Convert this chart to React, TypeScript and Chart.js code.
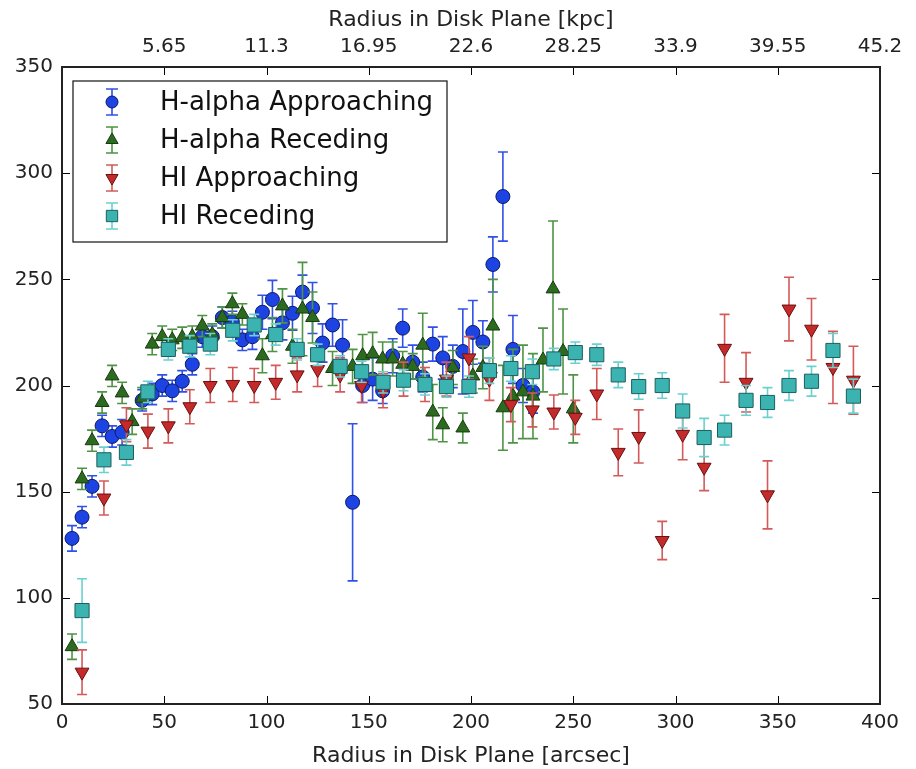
import React, { useEffect, useRef } from 'react';
import { Chart, registerables } from 'chart.js';

Chart.register(...registerables);

// ---- data (arcsec, km/s, error) ----
const haApproachX = [4.9, 9.8, 14.7, 19.6, 24.5, 29.4, 39.2, 44.1, 49, 53.9, 58.8, 63.7, 68.6, 73.5, 78.4, 83.3, 88.2, 93.1, 98, 102.9, 107.8, 112.7, 117.6, 122.5, 127.4, 132.3, 137.2, 142.1, 147, 151.9, 156.8, 161.7, 166.6, 171.5, 176.4, 181.3, 186.2, 191.1, 196, 200.9, 205.8, 210.7, 215.6, 220.5, 225.4, 230.3];
const haApproachY = [128, 138, 152.5, 181, 176, 178, 193, 196, 200, 197.5, 202, 210, 223, 223, 232, 230, 221.5, 223, 234.5, 240.5, 229.5, 234, 244, 236.5, 220, 228.5, 219, 145, 200, 203, 197.5, 214, 227, 211, 204, 219.5, 213, 209, 216, 225, 220.5, 257, 289, 217, 200, 197];
const haApproachErr = [6, 5, 5, 5, 5, 6, 5, 5, 5, 5, 5, 5, 5, 5, 5, 5, 5, 6, 8, 9, 8, 8, 8, 12, 9, 10, 12, 37, 8, 10, 6, 8, 9, 8, 7, 8, 10, 10, 20, 15, 10, 13, 21, 16, 8, 10];

const haRecedeX = [4.9, 9.8, 14.7, 19.6, 24.5, 29.4, 34.3, 39.2, 44.1, 49, 53.9, 58.8, 63.7, 68.6, 73.5, 78.4, 83.3, 88.2, 98, 102.9, 107.8, 112.7, 117.6, 122.5, 132.3, 142.1, 147, 151.9, 156.8, 161.7, 166.6, 171.5, 176.4, 181.3, 186.2, 191.1, 196, 200.9, 205.8, 210.7, 215.6, 220.5, 225.4, 230.3, 235.2, 240.1, 245, 250];
const haRecedeY = [77, 156, 174, 192, 204.5, 196.5, 183, 194, 219.5, 223, 221.5, 222.5, 223, 228, 224, 232, 238.5, 233.5, 214, 224, 237.5, 218.5, 236, 232, 208, 209, 214, 215, 212.5, 212.5, 210, 209, 219, 187.5, 181.5, 208.5, 180, 204.5, 208.5, 228, 189.5, 195, 197, 195, 212, 245.5, 216, 189];
const haRecedeErr = [6, 5, 5, 5, 5, 5, 6, 5, 5, 5, 5, 5, 5, 5, 5, 5, 5, 5, 8, 8, 8, 8, 22, 12, 8, 8, 10, 10, 8, 8, 6, 6, 15, 13, 8, 8, 7, 8, 10, 22, 20, 22, 22, 20, 15, 32, 20, 16];

const hiApproachX = [9.8, 20.5, 31.5, 42, 52, 62.5, 72.5, 83.5, 94, 104.5, 115, 125, 136, 146.5, 157, 167, 177.5, 188, 199, 209, 219.5, 230, 240.5, 251, 261.5, 272, 282, 293.5, 303.5, 314, 324, 334.5, 345, 355.5, 366.5, 377, 387];
const hiApproachY = [65, 147, 181.5, 178.5, 181, 190, 200, 200.5, 200, 201.5, 205, 207.5, 205, 200, 197.5, 203, 200.5, 203, 213, 203, 191, 188.5, 187.5, 185, 196, 168.5, 176, 127, 177, 161.5, 217.5, 201.5, 148.5, 236, 226.5, 208.5, 202.5];
const hiApproachErr = [10.5, 8, 8, 8, 8, 8, 8, 8, 8, 8, 8, 8, 8, 8, 8, 8, 8, 8, 10, 10, 8, 8, 8, 8, 12, 11, 12.5, 9, 12, 11, 16, 14, 16, 15, 14.5, 17, 16];

const hiRecedeX = [9.8, 20.5, 31.5, 42, 52, 62.5, 72.5, 83.5, 94, 104.5, 115, 125, 136, 146.5, 157, 167, 177.5, 188, 199, 209, 219.5, 230, 240.5, 251, 261.5, 272, 282, 293.5, 303.5, 314, 324, 334.5, 345, 355.5, 366.5, 377, 387];
const hiRecedeY = [94, 165, 168.5, 197, 217, 218.5, 219.5, 226, 228.5, 224, 217, 214.5, 209, 206.5, 201.5, 202.5, 200.5, 199.5, 199.5, 207, 208, 206.5, 212.5, 215.5, 214.5, 205, 199.5, 200, 188, 175.5, 179, 193, 192, 200, 202, 216.5, 195];
const hiRecedeErr = [15, 6, 6, 5, 5, 5, 5, 5, 5, 5, 5, 5, 5, 5, 5, 5, 5, 5, 5, 6, 6, 6, 5, 5, 5, 6, 6, 6, 8, 9, 7, 7, 7, 7, 7, 8, 8];

const seriesNames = ['H-alpha Approaching', 'H-alpha Receding', 'HI Approaching', 'HI Receding'];
const kpcTickLabels = ['', '5.65', '11.3', '16.95', '22.6', '28.25', '33.9', '39.55', '45.2'];

const FONT = '"DejaVu Sans", sans-serif';

const styles = [
  { fill: '#1d43e3', edge: '#0b1a66', err: '#3050e8', shape: 'circle', radius: 7, legendRadius: 6, rot: 0 },
  { fill: '#2c6b1f', edge: '#173b10', err: '#4e9444', shape: 'triangle', radius: 8, legendRadius: 7, rot: 0 },
  { fill: '#c42a2a', edge: '#6a1010', err: '#d45a5a', shape: 'triangle', radius: 8, legendRadius: 7, rot: 180 },
  { fill: '#3bb3b0', edge: '#1c5e5e', err: '#6cd0d0', shape: 'rect', radius: 10, legendRadius: 8, rot: 0 },
];

function drawMarker(ctx: CanvasRenderingContext2D, s: any, x: number, y: number, r: number) {
  ctx.save();
  ctx.fillStyle = s.fill;
  ctx.strokeStyle = s.edge;
  ctx.lineWidth = 1;
  ctx.beginPath();
  if (s.shape === 'circle') {
    ctx.arc(x, y, r, 0, Math.PI * 2);
  } else if (s.shape === 'rect') {
    const h = Math.SQRT1_2 * r;
    ctx.rect(x - h, y - h, 2 * h, 2 * h);
  } else {
    let rad = (s.rot * Math.PI) / 180;
    for (let k = 0; k < 3; k++) {
      const px = x + Math.sin(rad) * r;
      const py = y - Math.cos(rad) * r;
      if (k === 0) ctx.moveTo(px, py); else ctx.lineTo(px, py);
      rad += (2 * Math.PI) / 3;
    }
    ctx.closePath();
  }
  ctx.fill();
  ctx.stroke();
  ctx.restore();
}

function drawErr(ctx: CanvasRenderingContext2D, color: string, x: number, y1: number, y2: number, cap: number) {
  ctx.save();
  ctx.strokeStyle = color;
  ctx.lineWidth = 1.6;
  ctx.beginPath();
  ctx.moveTo(x, y1);
  ctx.lineTo(x, y2);
  ctx.moveTo(x - cap, y1);
  ctx.lineTo(x + cap, y1);
  ctx.moveTo(x - cap, y2);
  ctx.lineTo(x + cap, y2);
  ctx.stroke();
  ctx.restore();
}

const errorBarPlugin = {
  id: 'errorBars',
  beforeDatasetDraw(chart: any, args: any) {
    const ds = chart.data.datasets[args.index];
    const errs: number[] = ds.errors;
    if (!errs) return;
    const ctx = chart.ctx;
    const ys = chart.scales.y;
    const ca = chart.chartArea;
    ctx.save();
    ctx.beginPath();
    ctx.rect(ca.left, ca.top, ca.right - ca.left, ca.bottom - ca.top);
    ctx.clip();
    args.meta.data.forEach((el: any, i: number) => {
      const v = ds.data[i].y;
      const e = errs[i];
      drawErr(ctx, ds.errColor, el.x, ys.getPixelForValue(v + e), ys.getPixelForValue(v - e), 5);
    });
    ctx.restore();
  },
};

const framePlugin = {
  id: 'frameAndLegend',
  afterDraw(chart: any) {
    const ctx = chart.ctx as CanvasRenderingContext2D;
    const ca = chart.chartArea;
    const xs = chart.scales.x;
    const ys = chart.scales.y;
    ctx.save();
    // inward ticks on all four sides
    ctx.strokeStyle = '#000';
    ctx.lineWidth = 1;
    ctx.beginPath();
    xs.ticks.forEach((t: any) => {
      const px = Math.round(xs.getPixelForValue(t.value)) + 0.5;
      ctx.moveTo(px, ca.bottom); ctx.lineTo(px, ca.bottom - 8);
      ctx.moveTo(px, ca.top); ctx.lineTo(px, ca.top + 8);
    });
    ys.ticks.forEach((t: any) => {
      const py = Math.round(ys.getPixelForValue(t.value)) + 0.5;
      ctx.moveTo(ca.left, py); ctx.lineTo(ca.left + 8, py);
      ctx.moveTo(ca.right, py); ctx.lineTo(ca.right - 8, py);
    });
    ctx.stroke();
    // frame
    ctx.lineWidth = 2;
    ctx.strokeStyle = '#222';
    ctx.strokeRect(ca.left, ca.top, ca.right - ca.left, ca.bottom - ca.top);

    // legend
    const lx = ca.left + 11;
    const ly = ca.top + 14;
    const lw = 374;
    const lh = 161;
    ctx.fillStyle = '#fff';
    ctx.fillRect(lx, ly, lw, lh);
    ctx.lineWidth = 1.2;
    ctx.strokeStyle = '#111';
    ctx.strokeRect(lx, ly, lw, lh);
    ctx.font = '26px ' + FONT;
    ctx.textBaseline = 'middle';
    ctx.textAlign = 'left';
    chart.data.datasets.forEach((ds: any, i: number) => {
      const s = styles[i];
      const cy = ly + 21 + i * 38;
      const mx = lx + 39;
      drawErr(ctx, s.err, mx, cy - 13, cy + 13, 6);
      drawMarker(ctx, s, mx, cy, s.legendRadius);
      ctx.fillStyle = '#111';
      ctx.fillText(ds.label, lx + 87, cy + 1);
    });
    ctx.restore();
  },
};

function makeData(xs: number[], ys: number[]) {
  return xs.map((x, i) => ({ x, y: ys[i] }));
}

export default function App() {
  const ref = useRef<HTMLCanvasElement | null>(null);
  useEffect(() => {
    if (!ref.current) return;
    const series = [
      { x: haApproachX, y: haApproachY, e: haApproachErr },
      { x: haRecedeX, y: haRecedeY, e: haRecedeErr },
      { x: hiApproachX, y: hiApproachY, e: hiApproachErr },
      { x: hiRecedeX, y: hiRecedeY, e: hiRecedeErr },
    ];
    const datasets = series.map((s, i) => ({
      label: seriesNames[i],
      data: makeData(s.x, s.y),
      errors: s.e,
      errColor: styles[i].err,
      showLine: false,
      pointStyle: styles[i].shape,
      pointRadius: styles[i].radius,
      pointRotation: styles[i].rot,
      pointBackgroundColor: styles[i].fill,
      pointBorderColor: styles[i].edge,
      pointBorderWidth: 1,
      order: 3 - i,
    }));
    const tickFont = { family: FONT, size: 20 };
    const titleFont = { family: FONT, size: 22 };
    const chart = new Chart(ref.current, {
      type: 'scatter',
      data: { datasets: datasets as any },
      plugins: [errorBarPlugin, framePlugin],
      options: {
        animation: false,
        responsive: true,
        maintainAspectRatio: false,
        layout: { padding: { left: 0, right: 36, top: 0, bottom: 0 } },
        plugins: { legend: { display: false }, tooltip: { enabled: false } },
        scales: {
          x: {
            type: 'linear',
            position: 'bottom',
            min: 0,
            max: 400,
            ticks: { stepSize: 50, color: '#222', font: tickFont, padding: 7, maxRotation: 0 },
            grid: { display: false, drawTicks: false },
            border: { display: false },
            title: { display: true, text: 'Radius in Disk Plane [arcsec]', color: '#222', font: titleFont, padding: { top: 0, bottom: 0 } },
            afterFit: (s: any) => { s.height = 65; },
          },
          x2: {
            type: 'linear',
            position: 'top',
            min: 0,
            max: 400,
            ticks: {
              stepSize: 50,
              color: '#222',
              font: tickFont,
              padding: 8,
              maxRotation: 0,
              callback: (_v: any, idx: number) => kpcTickLabels[idx],
            },
            grid: { display: false, drawTicks: false },
            border: { display: false },
            title: { display: true, text: 'Radius in Disk Plane [kpc]', color: '#222', font: titleFont, padding: { top: 7, bottom: 0 } },
            afterFit: (s: any) => { s.height = 67; },
          },
          y: {
            type: 'linear',
            position: 'left',
            min: 50,
            max: 350,
            ticks: { stepSize: 50, color: '#222', font: tickFont, padding: 9 },
            grid: { display: false, drawTicks: false },
            border: { display: false },
            afterFit: (s: any) => { s.width = 62; },
          },
        },
      } as any,
    });
    return () => chart.destroy();
  }, []);
  return (
    <div style={{ position: 'absolute', left: 0, top: 0, width: 916, height: 769, background: '#fff' }}>
      <canvas ref={ref} />
    </div>
  );
}
